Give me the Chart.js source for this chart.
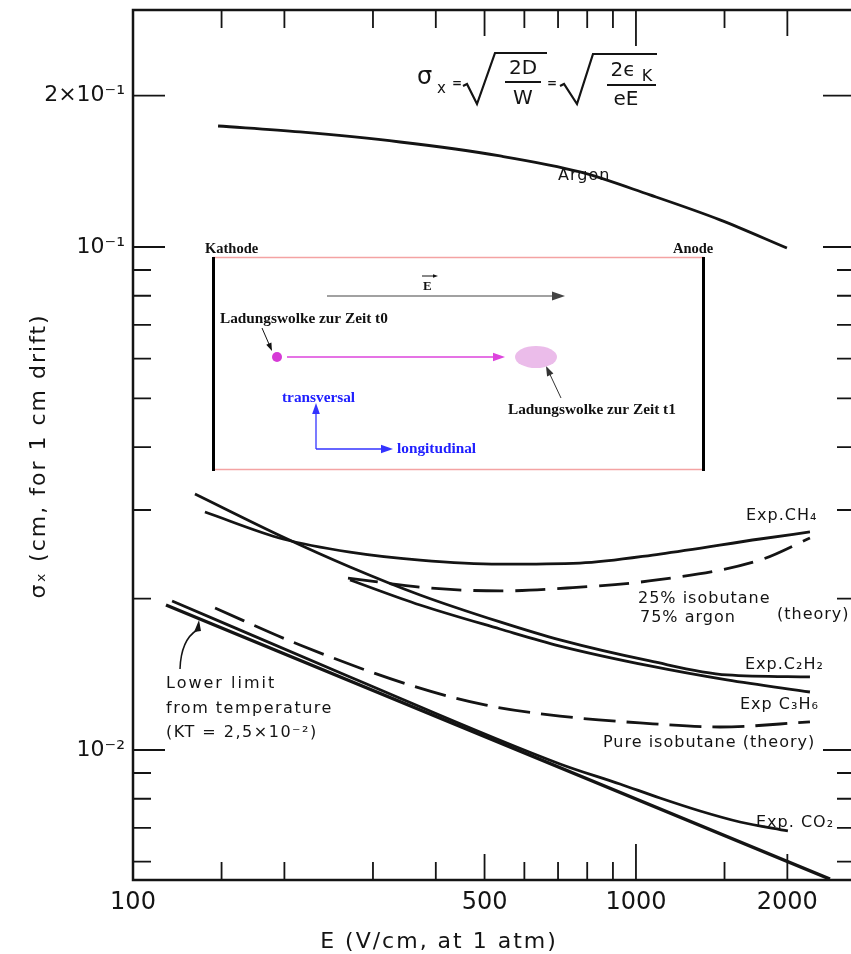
<!DOCTYPE html>
<html>
<head>
<meta charset="utf-8">
<script src="https://cdn.jsdelivr.net/npm/chart.js@4.4.1/dist/chart.umd.min.js"></script>
<style>
  html, body { margin: 0; padding: 0; overflow: hidden; background: #fff; }
  canvas { display: block; }
</style>
</head>
<body>
<canvas id="chart" width="870" height="954"></canvas>
<script>
// E field (V/cm, 1 atm) and sigma_x (cm for 1 cm drift)
const argonE = [147.6, 214.8, 339.6, 536.6, 773.8, 1066, 1469, 1996];
const argonSigma = [0.174, 0.1693, 0.1617, 0.1517, 0.141, 0.1269, 0.1132, 0.0995];

const ch4E = [139.0, 198.7, 270.1, 372.1, 536.6, 773.8, 1116, 1764, 2218];
const ch4Sigma = [0.02972, 0.02627, 0.02474, 0.02385, 0.02342, 0.02353, 0.02452, 0.02627, 0.02713];

const iso25E = [267.6, 389.5, 536.6, 729.3, 1101, 1764, 2218];
const iso25Sigma = [0.02197, 0.02099, 0.02071, 0.02099, 0.02178, 0.02385, 0.02638];

const c2h2E = [132.8, 198.7, 270.1, 372.1, 536.6, 706.2, 1066, 1517, 2218];
const c2h2Sigma = [0.03228, 0.02651, 0.02311, 0.02033, 0.01797, 0.01655, 0.01503, 0.01410, 0.01397];

const c3h6E = [270.1, 372.1, 536.6, 706.2, 1066, 1517, 2218];
const c3h6Sigma = [0.02178, 0.01942, 0.01740, 0.01609, 0.01469, 0.01378, 0.01304];

const pureIsoE = [145.6, 214.8, 360.3, 500.9, 706.2, 1018, 1469, 2218];
const pureIsoSigma = [0.01915, 0.01617, 0.01340, 0.01229, 0.01168, 0.01132, 0.01111, 0.01137];

const co2E = [119.6, 270.1, 706.2, 929.3, 1116, 1341, 1610, 2005];
const co2Sigma = [0.01978, 0.01397, 0.00938, 0.008557, 0.008026, 0.007563, 0.007192, 0.006902];

const lowerLimitE = [116.3, 2431];
const lowerLimitSigma = [0.01942, 0.005538];

// axis ticks
const xTicks = [100, 150, 200, 300, 400, 500, 600, 700, 800, 900, 1000, 1500, 2000];
const xLabels = { 100: '100', 500: '500', 1000: '1000', 2000: '2000' };
const yTicks = [0.006, 0.007, 0.008, 0.009, 0.01, 0.02, 0.03, 0.04, 0.05, 0.06, 0.07, 0.08, 0.09, 0.1, 0.2];
const yLabels = { 0.2: '2×10⁻¹', 0.1: '10⁻¹', 0.01: '10⁻²' };

const INK = '#141414';
const pts = (xs, ys) => xs.map((x, i) => ({ x: x, y: ys[i] }));

function line(xs, ys, dash, width) {
  return {
    data: pts(xs, ys),
    showLine: true,
    borderColor: INK,
    borderWidth: width || 2.8,
    borderDash: dash || [],
    pointRadius: 0,
    cubicInterpolationMode: 'monotone',
    fill: false
  };
}

function arrow(ctx, x1, y1, x2, y2, color, width, head) {
  const ang = Math.atan2(y2 - y1, x2 - x1);
  ctx.strokeStyle = color;
  ctx.fillStyle = color;
  ctx.lineWidth = width;
  ctx.beginPath();
  ctx.moveTo(x1, y1);
  ctx.lineTo(x2 - Math.cos(ang) * head * 0.8, y2 - Math.sin(ang) * head * 0.8);
  ctx.stroke();
  ctx.beginPath();
  ctx.moveTo(x2, y2);
  ctx.lineTo(x2 - head * Math.cos(ang) + head * 0.35 * Math.sin(ang), y2 - head * Math.sin(ang) - head * 0.35 * Math.cos(ang));
  ctx.lineTo(x2 - head * Math.cos(ang) - head * 0.35 * Math.sin(ang), y2 - head * Math.sin(ang) + head * 0.35 * Math.cos(ang));
  ctx.closePath();
  ctx.fill();
}

// frame with inward ticks on all four sides
const frame = {
  id: 'frame',
  afterDatasetsDraw(chart) {
    const { ctx, chartArea: a, scales: { x, y } } = chart;
    ctx.save();
    ctx.strokeStyle = INK;
    ctx.lineWidth = 2.5;
    ctx.strokeRect(a.left, a.top, a.right - a.left, a.bottom - a.top);
    ctx.lineWidth = 1.8;
    ctx.beginPath();
    xTicks.slice(1).forEach(v => {
      const px = x.getPixelForValue(v);
      const len = v === 1000 ? 36 : (v === 500 || v === 2000) ? 26 : 18;
      ctx.moveTo(px, a.top); ctx.lineTo(px, a.top + len);
      ctx.moveTo(px, a.bottom); ctx.lineTo(px, a.bottom - len);
    });
    yTicks.forEach(v => {
      const py = y.getPixelForValue(v);
      const len = yLabels[v] ? 32 : 18;
      ctx.moveTo(a.left, py); ctx.lineTo(a.left + len, py);
      ctx.moveTo(a.right, py); ctx.lineTo(a.right - len, py);
    });
    ctx.stroke();
    ctx.restore();
  }
};

const notes = {
  id: 'notes',
  afterDraw(chart) {
    const ctx = chart.ctx;
    ctx.save();
    ctx.fillStyle = INK;
    ctx.textBaseline = 'alphabetic';

    // axis titles
    ctx.font = '22px "DejaVu Sans"';
    ctx.letterSpacing = '2px';
    ctx.textAlign = 'center';
    ctx.fillText('E (V/cm, at 1 atm)', 439, 948);
    ctx.save();
    ctx.translate(45, 456);
    ctx.rotate(-Math.PI / 2);
    ctx.fillText('σₓ (cm, for 1 cm drift)', 0, 0);
    ctx.restore();

    // curve labels
    ctx.textAlign = 'left';
    ctx.letterSpacing = '1px';
    ctx.font = '16px "DejaVu Sans"';
    ctx.fillText('Argon', 558, 180);
    ctx.fillText('Exp.CH₄', 746, 520);
    ctx.fillText('25% isobutane', 638, 603);
    ctx.fillText('75% argon', 640, 622);
    ctx.fillText('(theory)', 777, 619);
    ctx.fillText('Exp.C₂H₂', 745, 669);
    ctx.fillText('Exp C₃H₆', 740, 709);
    ctx.fillText('Pure isobutane (theory)', 603, 747);
    ctx.fillText('Exp. CO₂', 756, 827);
    ctx.letterSpacing = '2px';
    ctx.fillText('Lower limit', 166, 688);
    ctx.letterSpacing = '1.5px';
    ctx.fillText('from temperature', 166, 713);
    ctx.fillText('(KT = 2,5×10⁻²)', 166, 737);
    ctx.letterSpacing = '0px';

    // pointer to lower limit line
    ctx.strokeStyle = INK;
    ctx.lineWidth = 1.5;
    ctx.beginPath();
    ctx.moveTo(180, 669);
    ctx.quadraticCurveTo(181, 640, 197, 630);
    ctx.stroke();
    ctx.beginPath();
    ctx.moveTo(199, 620); ctx.lineTo(194, 632); ctx.lineTo(201, 631);
    ctx.closePath(); ctx.fill();

    // formula
    ctx.font = '24px "DejaVu Sans"';
    ctx.fillText('σ', 417, 84);
    ctx.font = '15px "DejaVu Sans"';
    ctx.fillText('x', 437, 93);
    ctx.font = 'bold 12px "DejaVu Sans"';
    ctx.fillText('=', 452, 87);
    ctx.fillText('=', 547, 87);
    ctx.font = '20px "DejaVu Sans"';
    ctx.textAlign = 'center';
    ctx.fillText('2D', 523, 74);
    ctx.fillText('W', 523, 104);
    ctx.fillText('2ϵ', 623, 76);
    ctx.fillText('eE', 626, 105);
    ctx.font = '16px "DejaVu Sans"';
    ctx.fillText('K', 647, 81);
    ctx.lineWidth = 2.2;
    ctx.beginPath();
    // fraction bars
    ctx.moveTo(505, 82); ctx.lineTo(541, 82);
    ctx.moveTo(607, 85); ctx.lineTo(656, 85);
    // radicals
    ctx.moveTo(463, 86); ctx.lineTo(467, 84); ctx.lineTo(477, 104); ctx.lineTo(495, 53); ctx.lineTo(547, 53);
    ctx.moveTo(560, 86); ctx.lineTo(564, 84); ctx.lineTo(577, 104); ctx.lineTo(593, 54); ctx.lineTo(657, 54);
    ctx.stroke();

    // inset: drift of a charge cloud between cathode and anode
    ctx.fillStyle = '#fff';
    ctx.fillRect(213, 257, 491, 213);
    ctx.strokeStyle = '#f4a3a3';
    ctx.lineWidth = 1.5;
    ctx.beginPath();
    ctx.moveTo(213, 257.5); ctx.lineTo(704, 257.5);
    ctx.moveTo(213, 469.5); ctx.lineTo(704, 469.5);
    ctx.stroke();
    ctx.strokeStyle = '#000';
    ctx.lineWidth = 3;
    ctx.beginPath();
    ctx.moveTo(213.5, 257); ctx.lineTo(213.5, 471);
    ctx.moveTo(703.5, 257); ctx.lineTo(703.5, 471);
    ctx.stroke();

    ctx.fillStyle = '#111';
    ctx.textAlign = 'left';
    ctx.font = 'bold 14.5px "Liberation Serif"';
    ctx.fillText('Kathode', 205, 253);
    ctx.fillText('Anode', 673, 253);
    ctx.font = 'bold 15.3px "Liberation Serif"';
    ctx.fillText('Ladungswolke zur Zeit t0', 220, 323);
    ctx.fillText('Ladungswolke zur Zeit t1', 508, 414);
    ctx.font = 'bold 13px "Liberation Serif"';
    ctx.fillText('E', 423, 290);
    arrow(ctx, 422, 276, 438, 276, '#111', 1, 5);
    arrow(ctx, 327, 296, 565, 296, '#444', 1.2, 13);
    arrow(ctx, 262, 328, 272, 351, '#111', 1, 8);
    arrow(ctx, 561, 398, 546, 366, '#333', 1, 10);

    ctx.fillStyle = '#ebbcea';
    ctx.beginPath();
    ctx.ellipse(536, 357, 21, 11, 0, 0, Math.PI * 2);
    ctx.fill();
    ctx.fillStyle = '#d63ad6';
    ctx.beginPath();
    ctx.arc(277, 357, 5, 0, Math.PI * 2);
    ctx.fill();
    arrow(ctx, 287, 357, 505, 357, '#dd44dd', 1.3, 12);

    ctx.fillStyle = '#2020ff';
    ctx.font = 'bold 15.3px "Liberation Serif"';
    ctx.fillText('transversal', 282, 402);
    ctx.fillText('longitudinal', 397, 453);
    arrow(ctx, 316, 449, 316, 403, '#3333ff', 1.3, 11);
    arrow(ctx, 316, 449, 393, 449, '#3333ff', 1.3, 12);

    ctx.restore();
  }
};

new Chart(document.getElementById('chart'), {
  type: 'scatter',
  data: {
    datasets: [
      line(argonE, argonSigma),
      line(ch4E, ch4Sigma),
      line(iso25E, iso25Sigma, [30, 12]),
      line(c2h2E, c2h2Sigma),
      line(c3h6E, c3h6Sigma),
      line(pureIsoE, pureIsoSigma, [32, 11]),
      line(co2E, co2Sigma),
      line(lowerLimitE, lowerLimitSigma, [], 3.4)
    ]
  },
  options: {
    responsive: false,
    animation: false,
    layout: { padding: { top: 10, right: 15, left: 0, bottom: 0 } },
    plugins: { legend: { display: false }, tooltip: { enabled: false } },
    scales: {
      x: {
        type: 'logarithmic',
        min: 100,
        max: 2726,
        grid: { display: false, drawTicks: false },
        border: { display: false },
        afterBuildTicks: s => { s.ticks = xTicks.map(v => ({ value: v })); },
        afterFit: s => { s.height = 74; s.paddingLeft = 0; s.paddingRight = 0; },
        ticks: {
          autoSkip: false,
          maxRotation: 0,
          padding: 8,
          color: INK,
          font: { family: 'DejaVu Sans', size: 24 },
          callback: v => xLabels[v] || ''
        }
      },
      y: {
        type: 'logarithmic',
        min: 0.005515,
        max: 0.2959,
        grid: { display: false, drawTicks: false },
        border: { display: false },
        afterBuildTicks: s => { s.ticks = yTicks.map(v => ({ value: v })); },
        afterFit: s => { s.width = 133; s.paddingTop = 0; s.paddingBottom = 0; },
        ticks: {
          autoSkip: false,
          padding: 8,
          color: INK,
          font: { family: 'DejaVu Sans', size: 22 },
          callback: v => yLabels[v] || ''
        }
      }
    }
  },
  plugins: [frame, notes]
});
</script>
</body>
</html>
